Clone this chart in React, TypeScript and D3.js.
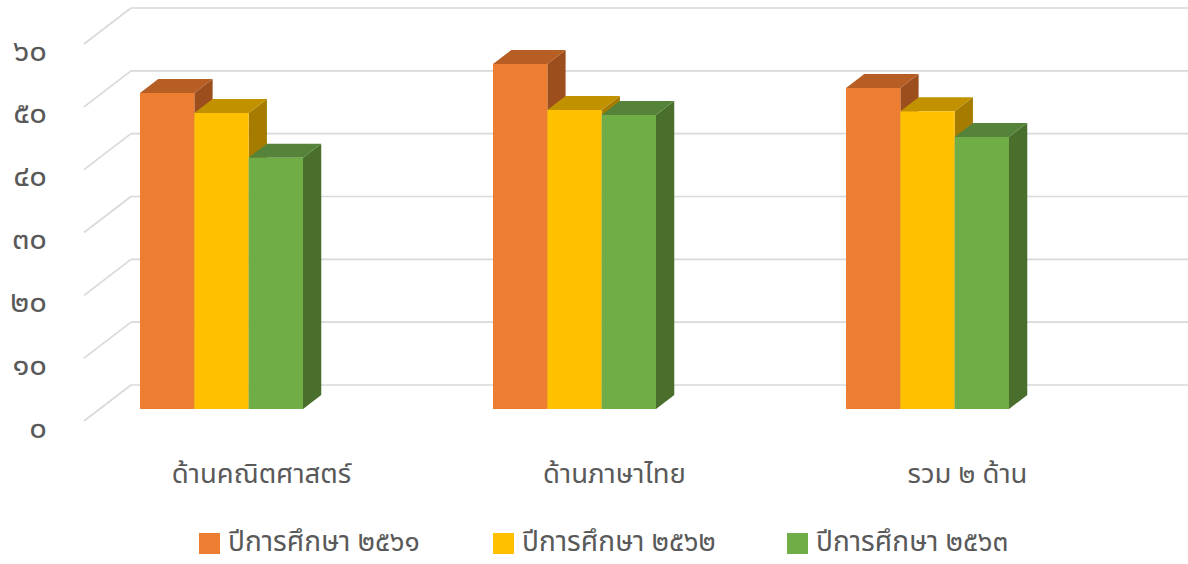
import React from 'react';
import * as d3 from 'd3';

const categories = ['ด้านคณิตศาสตร์', 'ด้านภาษาไทย', 'รวม ๒ ด้าน'];
const seriesNames = ['ปีการศึกษา ๒๕๖๑', 'ปีการศึกษา ๒๕๖๒', 'ปีการศึกษา ๒๕๖๓'];
const values2561 = [50.3, 54.9, 51.1];
const values2562 = [47.1, 47.6, 47.4];
const values2563 = [40.0, 46.8, 43.3];
const yTicks = [0, 10, 20, 30, 40, 50, 60];
const yTickLabels = ['๐', '๑๐', '๒๐', '๓๐', '๔๐', '๕๐', '๖๐'];

const seriesValues = [values2561, values2562, values2563];
const faceColors = ['#ED7D31', '#FFC000', '#70AD47'];
const topColors = ['#B65E24', '#C29100', '#56833A'];
const sideColors = ['#9C4E1D', '#A67C00', '#4A6E2C'];

const W = 1188;
const H = 564;
const FONT = '"Noto Sans Thai", "Noto Sans Thai UI", "Leelawadee UI", Tahoma, "Noto Sans", sans-serif';

export default function App() {
  // oblique 3D frame
  const front = { x: 84, y: 421 };
  const depth = { x: 47, y: -36 };
  const yH = d3.scaleLinear().domain([0, 60]).range([0, 377]);
  const t0 = 1 / 3;
  const t1 = 0.722;
  const barBottom = front.y + depth.y * t0;
  const bd = { x: depth.x * (t1 - t0), y: depth.y * (t1 - t0) };

  const groupX = d3.scalePoint<string>().domain(categories).range([221.5, 927.5]);
  const inner = d3.scaleBand<string>().domain(seriesNames).range([-81.5, 81.5]).padding(0);
  const bw = inner.bandwidth();

  const gridColor = '#D9D9D9';
  const textColor = '#595959';

  return (
    <svg width={W} height={H} style={{ position: 'absolute', left: 0, top: 0, background: '#fff' }}>
      <rect x={0} y={0} width={W} height={H} fill="#fff" />
      {yTicks.map((v, i) => {
        const fy = front.y - yH(v);
        const bx = front.x + depth.x;
        const by = fy + depth.y;
        return (
          <g key={v}>
            <line x1={front.x} y1={fy} x2={bx} y2={by} stroke={gridColor} strokeWidth={1.6} />
            <line x1={bx} y1={by} x2={W} y2={by} stroke={gridColor} strokeWidth={1.6} />
            <text x={47} y={fy + 8} textAnchor="end" dominantBaseline="middle" fill={textColor}
              fontFamily={FONT} fontSize={31}>{yTickLabels[i]}</text>
          </g>
        );
      })}
      {categories.map((c, ci) => (
        <g key={c}>
          {seriesNames.map((s, si) => {
            const v = seriesValues[si][ci];
            const x0 = (groupX(c) as number) + (inner(s) as number);
            const x1 = x0 + bw;
            const yb = barBottom;
            const yt = barBottom - yH(v);
            const frontPts = `${x0},${yb} ${x1},${yb} ${x1},${yt} ${x0},${yt}`;
            const topPts = `${x0},${yt} ${x1},${yt} ${x1 + bd.x},${yt + bd.y} ${x0 + bd.x},${yt + bd.y}`;
            const sidePts = `${x1},${yb} ${x1 + bd.x},${yb + bd.y} ${x1 + bd.x},${yt + bd.y} ${x1},${yt}`;
            return (
              <g key={s}>
                <polygon points={sidePts} fill={sideColors[si]} />
                <polygon points={topPts} fill={topColors[si]} />
                <polygon points={frontPts} fill={faceColors[si]} />
              </g>
            );
          })}
          <text x={(groupX(c) as number) + 40} y={483} textAnchor="middle" fill={textColor}
            fontFamily={FONT} fontSize={27.5}>{c}</text>
        </g>
      ))}
      {seriesNames.map((s, si) => {
        const lx = [199, 493, 787][si];
        return (
          <g key={s}>
            <rect x={lx} y={533} width={21} height={21} fill={faceColors[si]} />
            <text x={lx + 29} y={551} fill={textColor} fontFamily={FONT} fontSize={28}>{s}</text>
          </g>
        );
      })}
    </svg>
  );
}
